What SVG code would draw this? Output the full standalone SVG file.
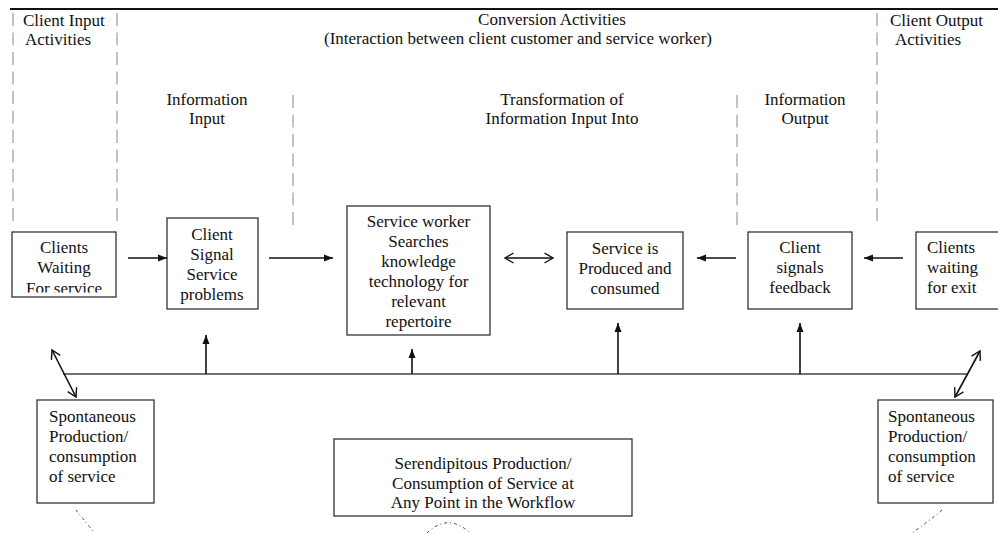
<svg xmlns="http://www.w3.org/2000/svg" width="998" height="533" viewBox="0 0 998 533">
<style>
text{font-family:"Liberation Serif","Times New Roman",serif;font-size:17px;fill:#111}
.c{text-anchor:middle}
.box{fill:#fff;stroke:#333;stroke-width:1.3}
.dash{stroke:#888;stroke-width:1;stroke-dasharray:13 6.5;fill:none}
.ln{stroke:#111;stroke-width:1.6;fill:none}
.bus{stroke:#444;stroke-width:1.6;fill:none}
.dot{stroke:#444;stroke-width:1;fill:none;stroke-dasharray:3 3 1 3}
</style>
<defs>
<marker id="fa" markerUnits="userSpaceOnUse" markerWidth="10" markerHeight="8" refX="9" refY="4" orient="auto">
<path d="M0,0.5 L9,4 L0,7.5 z" fill="#111"/>
</marker>
<marker id="oa" markerUnits="userSpaceOnUse" markerWidth="12" markerHeight="12" refX="9.5" refY="6" orient="auto-start-reverse">
<path d="M1,1 L9.5,6 L1,11" fill="none" stroke="#111" stroke-width="1.4"/>
</marker>
<clipPath id="clip1"><rect x="12" y="232" width="104" height="60.5"/></clipPath>
</defs>

<g id="frame">
<line x1="10" y1="9" x2="998" y2="9" stroke="#111" stroke-width="2.2"/>
<line class="dash" x1="13" y1="13" x2="13" y2="222"/>
<line class="dash" x1="117" y1="13" x2="117" y2="222"/>
<line class="dash" x1="293" y1="95" x2="293" y2="227"/>
<line class="dash" x1="737" y1="95" x2="737" y2="227"/>
<line class="dash" x1="877" y1="13" x2="877" y2="222"/>
</g>

<g id="headers">
<text x="23" y="26">Client Input</text>
<text x="25" y="45">Activities</text>
<text class="c" x="552" y="25">Conversion Activities</text>
<text class="c" x="518" y="44">(Interaction between client customer and service worker)</text>
<text x="890" y="26">Client Output</text>
<text x="895" y="45">Activities</text>
<text class="c" x="207" y="105">Information</text>
<text class="c" x="207" y="124">Input</text>
<text class="c" x="562" y="105">Transformation of</text>
<text class="c" x="562" y="124">Information Input Into</text>
<text class="c" x="805" y="105">Information</text>
<text class="c" x="805" y="124">Output</text>
</g>

<g id="clients-waiting">
<rect class="box" x="12" y="232" width="104" height="65"/>
<g clip-path="url(#clip1)">
<text class="c" x="64" y="253">Clients</text>
<text class="c" x="64" y="273">Waiting</text>
<text class="c" x="64" y="294">For service</text>
</g>
</g>

<g id="client-signal">
<rect class="box" x="167" y="218" width="91" height="91"/>
<text class="c" x="212" y="240">Client</text>
<text class="c" x="212" y="260">Signal</text>
<text class="c" x="212" y="280">Service</text>
<text class="c" x="212" y="300">problems</text>
</g>

<g id="service-worker">
<rect class="box" x="347" y="206" width="143" height="129"/>
<text class="c" x="418.5" y="227">Service worker</text>
<text class="c" x="418.5" y="247">Searches</text>
<text class="c" x="418.5" y="267">knowledge</text>
<text class="c" x="418.5" y="287">technology for</text>
<text class="c" x="418.5" y="307">relevant</text>
<text class="c" x="418.5" y="327">repertoire</text>
</g>

<g id="service-produced">
<rect class="box" x="567" y="232" width="116" height="77"/>
<text class="c" x="625" y="254">Service is</text>
<text class="c" x="625" y="274">Produced and</text>
<text class="c" x="625" y="294">consumed</text>
</g>

<g id="client-feedback">
<rect class="box" x="748" y="232" width="104" height="77"/>
<text class="c" x="800" y="253">Client</text>
<text class="c" x="800" y="273">signals</text>
<text class="c" x="800" y="293">feedback</text>
</g>

<g id="clients-exit">
<rect class="box" x="916" y="232" width="90" height="77"/>
<text x="927" y="253">Clients</text>
<text x="927" y="273">waiting</text>
<text x="927" y="293">for exit</text>
</g>

<g id="spontaneous-left">
<rect class="box" x="37" y="400" width="117" height="103"/>
<text x="49" y="422">Spontaneous</text>
<text x="49" y="442">Production/</text>
<text x="49" y="462">consumption</text>
<text x="49" y="482">of service</text>
</g>

<g id="serendipitous">
<rect class="box" x="334" y="439" width="298" height="77"/>
<text class="c" x="483" y="469">Serendipitous Production/</text>
<text class="c" x="483" y="488.5">Consumption of Service at</text>
<text class="c" x="483" y="508">Any Point in the Workflow</text>
</g>

<g id="spontaneous-right">
<rect class="box" x="878" y="400" width="115" height="103"/>
<text x="888" y="422">Spontaneous</text>
<text x="888" y="442">Production/</text>
<text x="888" y="462">consumption</text>
<text x="888" y="482">of service</text>
</g>

<g id="connectors">
<line class="ln" x1="128" y1="258" x2="167" y2="258" marker-end="url(#fa)"/>
<line class="ln" x1="269" y1="258" x2="333" y2="258" marker-end="url(#fa)"/>
<line class="ln" x1="505" y1="258" x2="553" y2="258" marker-start="url(#oa)" marker-end="url(#oa)"/>
<line class="ln" x1="736" y1="258" x2="697" y2="258" marker-end="url(#fa)"/>
<line class="ln" x1="903" y1="258" x2="864" y2="258" marker-end="url(#fa)"/>
<line class="bus" x1="63" y1="374" x2="967" y2="374"/>
<line class="ln" x1="206" y1="374" x2="206" y2="335" marker-end="url(#fa)"/>
<line class="ln" x1="412" y1="374" x2="412" y2="349" marker-end="url(#fa)"/>
<line class="ln" x1="618" y1="374" x2="618" y2="323" marker-end="url(#fa)"/>
<line class="ln" x1="800" y1="374" x2="800" y2="323" marker-end="url(#fa)"/>
<line class="ln" x1="52" y1="350" x2="76" y2="397" marker-start="url(#oa)" marker-end="url(#oa)"/>
<line class="ln" x1="980" y1="351" x2="955" y2="397" marker-start="url(#oa)" marker-end="url(#oa)"/>
<path class="dot" d="M76,510 Q84,520 93,531"/>
<path class="dot" d="M427,533 Q449,512 471,534"/>
<path class="dot" d="M942,510 Q928,522 912,533"/>
</g>
</svg>
